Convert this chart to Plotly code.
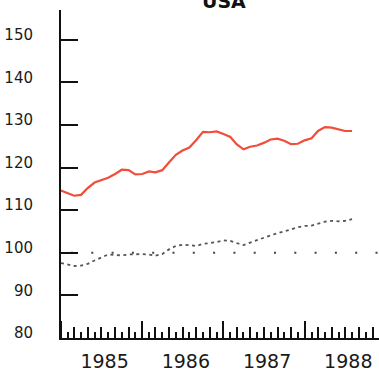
import pandas as pd
import plotly.graph_objects as go

# monthly index values, Jan 1985 .. Aug 1988
months = pd.date_range("1985-01-01", periods=44, freq="MS")

usa_red = [114.6, 114.0, 113.4, 113.6, 115.2, 116.5, 117.0, 117.6, 118.5, 119.5, 119.4, 118.4,
           118.5, 119.1, 118.9, 119.4, 121.2, 123.0, 124.0, 124.7, 126.5, 128.4, 128.3, 128.5,
           127.9, 127.2, 125.5, 124.3, 124.9, 125.2, 125.8, 126.6, 126.8, 126.3, 125.5, 125.6,
           126.4, 126.9, 128.6, 129.5, 129.4, 128.9, 128.6, 128.6]

usa_grey = [97.6, 97.2, 96.9, 97.0, 97.4, 98.2, 98.9, 99.6, 99.5, 99.4, 99.6, 99.7,
            99.7, 99.6, 99.3, 99.7, 100.8, 101.6, 101.9, 101.8, 101.6, 102.1, 102.3, 102.5,
            102.9, 102.8, 102.3, 101.8, 102.4, 103.0, 103.6, 104.1, 104.6, 105.0, 105.5, 106.0,
            106.3, 106.4, 106.8, 107.3, 107.5, 107.4, 107.5, 107.9]

base_value = 100
x_range = ["1985-01-01", "1988-11-30"]
y_ticks = [80, 90, 100, 110, 120, 130, 140, 150]

fig = go.Figure()

# reference line at 100 (on the overlay axis so that axis gets drawn)
fig.add_trace(go.Scatter(
    x=x_range, y=[base_value, base_value], mode="lines", xaxis="x2",
    line=dict(color="#444444", width=2, dash="0px,10px,2px,8.3px"), hoverinfo="skip"))

fig.add_trace(go.Scatter(
    x=months, y=usa_grey, mode="lines",
    line=dict(color="#555555", width=1.8, dash="3px,3.5px")))

fig.add_trace(go.Scatter(
    x=months, y=usa_red, mode="lines",
    line=dict(color="#f04d3a", width=2.2)))

fig.add_annotation(
    text="<b>USA</b>", xref="paper", yref="paper", x=(224 - 61) / 318, y=1 + (10 - 14) / 328,
    xanchor="center", yanchor="bottom", showarrow=False,
    font=dict(size=19, color="#111111"))

fig.update_layout(
    width=379, height=372,
    margin=dict(l=61, r=0, t=10, b=34),
    paper_bgcolor="white", plot_bgcolor="white",
    showlegend=False,
    font=dict(family="DejaVu Sans", color="#1a1a1a"),
    xaxis=dict(
        range=x_range, type="date", showgrid=False, zeroline=False, automargin=False,
        showline=True, linecolor="#111111", linewidth=2,
        tick0="1985-01-01", dtick="M12", ticklabelmode="period", tickformat="%Y",
        ticks="inside", ticklen=17, tickwidth=2, tickcolor="#111111",
        tickfont=dict(size=19), ticklabelstandoff=5, ticklabelshift=3,
        minor=dict(dtick="M1", tick0="1985-01-01", ticks="inside", ticklen=6,
                   tickwidth=1.5, tickcolor="#111111", showgrid=False),
    ),
    xaxis2=dict(
        range=x_range, type="date", overlaying="x", anchor="y", side="bottom",
        showgrid=False, zeroline=False, showticklabels=False, automargin=False,
        tick0="1985-01-01", dtick="M2", ticks="inside", ticklen=11, tickwidth=1.5,
        tickcolor="#111111",
    ),
    yaxis=dict(
        range=[80, 157], showgrid=False, zeroline=False, automargin=False,
        showline=True, linecolor="#111111", linewidth=2,
        tickvals=y_ticks, ticks="inside", ticklen=17, tickwidth=2, tickcolor="#111111",
        tickfont=dict(size=15), ticklabelstandoff=23, ticklabelshift=-5,
    ),
)

fig.write_html("out.html", config={"displayModeBar": False},
               post_script="document.body.style.margin = '0';")
